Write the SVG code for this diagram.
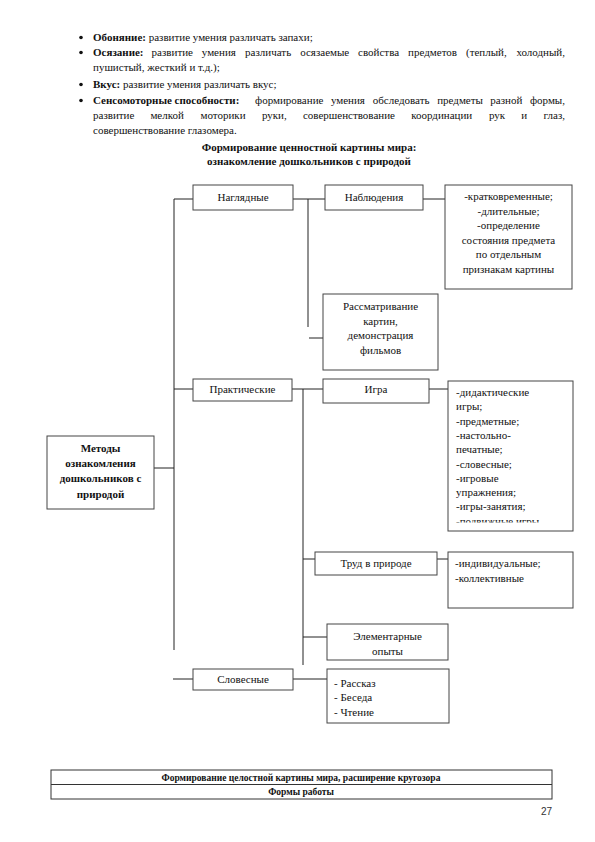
<svg xmlns="http://www.w3.org/2000/svg" width="595" height="842" viewBox="0 0 595 842">
<style>
text{font-family:"Liberation Serif","Times New Roman",serif;fill:#111}
.t{font-size:11px}
.b{font-weight:bold}
.c{text-anchor:middle}
.e{text-anchor:end}
.box{fill:#fff;stroke:#444;stroke-width:1}
.ln{stroke:#222;stroke-width:1;fill:none}
.num{font-family:"Liberation Sans",Arial,sans-serif;font-size:10px;fill:#333}
</style>
<defs>
<clipPath id="clipIgra"><rect x="448" y="381" width="125" height="141.5"/></clipPath>
</defs>
<rect width="595" height="842" fill="#fff"/>

<g id="intro-text" class="t">
<circle cx="81" cy="37.5" r="1.8" fill="#111"/>
<text x="93" y="41"><tspan class="b">Обоняние:</tspan> развитие умения различать запахи;</text>
<circle cx="81" cy="52.5" r="1.8" fill="#111"/>
<text y="56"><tspan x="93" class="b">Осязание:</tspan><tspan x="151.6">развитие</tspan><tspan x="201.8">умения</tspan><tspan x="245.1">различать</tspan><tspan x="300.2">осязаемые</tspan><tspan x="358.1">свойства</tspan><tspan x="408.1">предметов</tspan><tspan x="466">(теплый,</tspan></text>
<text x="565" y="56" class="e">холодный,</text>
<text x="93" y="71">пушистый, жесткий и т.д.);</text>
<circle cx="81" cy="84.5" r="1.8" fill="#111"/>
<text x="93" y="88"><tspan class="b">Вкус:</tspan> развитие умения различать вкус;</text>
<circle cx="81" cy="100.5" r="1.8" fill="#111"/>
<text y="104"><tspan x="93" class="b">Сенсомоторные способности:</tspan><tspan x="255">формирование</tspan><tspan x="330.9">умения</tspan><tspan x="372.7">обследовать</tspan><tspan x="437.2">предметы</tspan><tspan x="490.3">разной</tspan></text>
<text x="565" y="104" class="e">формы,</text>
<text y="119"><tspan x="93">развитие</tspan><tspan x="150.4">мелкой</tspan><tspan x="200.5">моторики</tspan><tspan x="261.9">руки,</tspan><tspan x="302.9">совершенствование</tspan><tspan x="411.2">координации</tspan><tspan x="488.9">рук</tspan><tspan x="521.2">и</tspan></text>
<text x="565" y="119" class="e">глаз,</text>
<text x="93" y="134">совершенствование глазомера.</text>
</g>

<g id="title" class="t b c">
<text x="309" y="151">Формирование ценностной картины мира:</text>
<text x="309" y="165">ознакомление дошкольников с природой</text>
</g>

<g id="connectors" class="ln">
<path d="M174 199V650"/>
<path d="M174 199H193"/>
<path d="M174 389H193"/>
<path d="M154 468H174"/>
<path d="M173 679H193"/>
<path d="M293 199H325"/>
<path d="M308 199V327"/>
<path d="M309 338H323"/>
<path d="M423 199H445"/>
<path d="M292 389H323"/>
<path d="M303 389V665"/>
<path d="M303 559H315"/>
<path d="M303 637H327"/>
<path d="M429 389H448"/>
<path d="M437 559H448"/>
<path d="M293 679H327"/>
</g>

<g id="metody">
<rect class="box" x="47" y="436" width="107" height="73"/>
<text class="t b c" x="100.5" y="452">Методы</text>
<text class="t b c" x="100.5" y="467">ознакомления</text>
<text class="t b c" x="100.5" y="482">дошкольников с</text>
<text class="t b c" x="100.5" y="498">природой</text>
</g>

<g id="naglyadnye">
<rect class="box" x="193" y="185" width="100" height="25"/>
<text class="t c" x="243" y="201">Наглядные</text>
</g>

<g id="nablyudeniya">
<rect class="box" x="325" y="185" width="98" height="25"/>
<text class="t c" x="374" y="201">Наблюдения</text>
</g>

<g id="nabl-vidy">
<rect class="box" x="445" y="185" width="127" height="104"/>
<text class="t c" x="508.5" y="200">-кратковременные;</text>
<text class="t c" x="508.5" y="214.5">-длительные;</text>
<text class="t c" x="508.5" y="229">-определение</text>
<text class="t c" x="508.5" y="243.5">состояния предмета</text>
<text class="t c" x="508.5" y="258">по отдельным</text>
<text class="t c" x="508.5" y="272.5">признакам картины</text>
</g>

<g id="rassmatrivanie">
<rect class="box" x="323" y="294" width="115" height="76"/>
<text class="t c" x="380.5" y="310">Рассматривание</text>
<text class="t c" x="380.5" y="324.5">картин,</text>
<text class="t c" x="380.5" y="339">демонстрация</text>
<text class="t c" x="380.5" y="353.5">фильмов</text>
</g>

<g id="prakticheskie">
<rect class="box" x="193" y="379" width="99" height="22"/>
<text class="t c" x="242.5" y="393">Практические</text>
</g>

<g id="igra">
<rect class="box" x="323" y="379" width="106" height="24"/>
<text class="t c" x="376" y="393">Игра</text>
</g>

<g id="igra-vidy">
<rect class="box" x="448" y="381" width="125" height="150"/>
<g clip-path="url(#clipIgra)" class="t">
<text x="456" y="396">-дидактические</text>
<text x="456" y="410.3">игры;</text>
<text x="456" y="424.6">-предметные;</text>
<text x="456" y="438.9">-настольно-</text>
<text x="456" y="453.2">печатные;</text>
<text x="456" y="467.5">-словесные;</text>
<text x="456" y="481.8">-игровые</text>
<text x="456" y="496.1">упражнения;</text>
<text x="456" y="510.4">-игры-занятия;</text>
<text x="456" y="524.7">-подвижные игры</text>
</g>
</g>

<g id="trud">
<rect class="box" x="315" y="552" width="122" height="23"/>
<text class="t c" x="376" y="567">Труд в природе</text>
</g>

<g id="trud-vidy">
<rect class="box" x="448" y="552" width="125" height="56"/>
<text class="t" x="455" y="567">-индивидуальные;</text>
<text class="t" x="455" y="582">-коллективные</text>
</g>

<g id="opyty">
<rect class="box" x="327" y="624" width="121" height="36"/>
<text class="t c" x="387.5" y="640">Элементарные</text>
<text class="t c" x="387.5" y="654.5">опыты</text>
</g>

<g id="slovesnye">
<rect class="box" x="193" y="669" width="100" height="21"/>
<text class="t c" x="243" y="683">Словесные</text>
</g>

<g id="slovesnye-vidy">
<rect class="box" x="327" y="669" width="122" height="54"/>
<text class="t" x="334" y="687">- Рассказ</text>
<text class="t" x="334" y="701">- Беседа</text>
<text class="t" x="334" y="716">- Чтение</text>
</g>

<g id="table">
<rect x="51" y="770" width="501" height="29" fill="#fff" stroke="#333" stroke-width="1"/>
<path d="M51 784.5H552" stroke="#333" stroke-width="1"/>
<text x="301" y="781" class="b c" font-size="9.5px">Формирование целостной картины мира, расширение кругозора</text>
<text x="301" y="795" class="b c" font-size="9.5px">Формы работы</text>
</g>

<text class="num e" x="552" y="815">27</text>
</svg>
